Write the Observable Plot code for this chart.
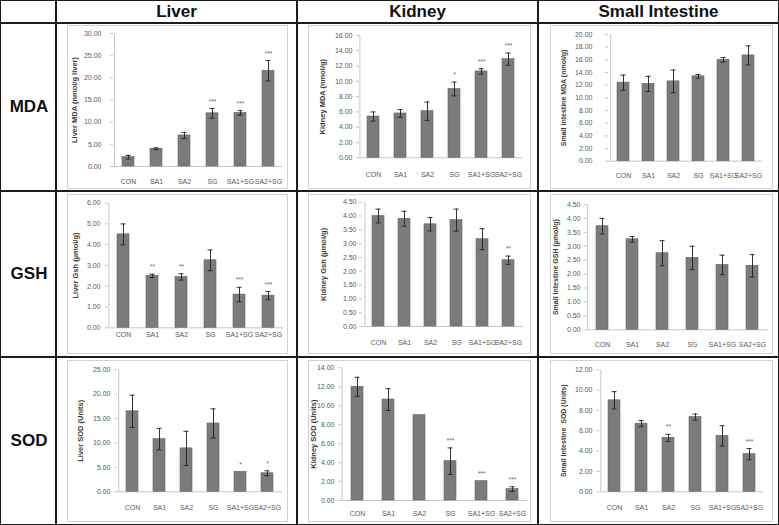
<!DOCTYPE html>
<html><head><meta charset="utf-8">
<script src="https://cdn.jsdelivr.net/npm/d3@7"></script>
<script src="https://cdn.jsdelivr.net/npm/@observablehq/plot@0.6"></script>
<style>
body{margin:0;background:#fff;}
#wrap{position:relative;width:779px;height:525px;overflow:hidden;font-family:Arial,"Liberation Sans",sans-serif;background:#fff;}
.ln{position:absolute;background:#1c1c1c;}
.hd{position:absolute;font-weight:bold;font-size:17px;color:#111;text-align:center;line-height:20px;}
.panel{position:absolute;}
.panel svg{display:block;outline:1px solid #d2d2d2;outline-offset:-1px;background:#fff;}
</style></head><body><div id="wrap"></div><script>
// ---- data ----
const categories = ["CON", "SA1", "SA2", "SG", "SA1+SG", "SA2+SG"];
const organs = ["Liver", "Kidney", "Small Intestine"];
const measures = ["MDA", "GSH", "SOD"];

const liverMDA = [2.1, 4.0, 7.0, 12.0, 12.1, 21.6];
const liverMDAErr = [0.4, 0.2, 0.7, 1.1, 0.5, 2.3];
const liverMDASig = ["", "", "", "***", "***", "***"];
const kidneyMDA = [5.4, 5.8, 6.1, 9.0, 11.3, 12.9];
const kidneyMDAErr = [0.6, 0.5, 1.2, 0.9, 0.35, 0.8];
const kidneyMDASig = ["", "", "", "*", "***", "***"];
const siMDA = [12.4, 12.2, 12.6, 13.4, 16.0, 16.7];
const siMDAErr = [1.2, 1.2, 1.8, 0.3, 0.35, 1.5];
const siMDASig = ["", "", "", "", "", ""];

const liverGSH = [4.5, 2.5, 2.45, 3.25, 1.6, 1.55];
const liverGSHErr = [0.5, 0.08, 0.15, 0.5, 0.35, 0.2];
const liverGSHSig = ["", "**", "**", "", "***", "***"];
const kidneyGSH = [4.0, 3.9, 3.7, 3.85, 3.16, 2.4];
const kidneyGSHErr = [0.25, 0.27, 0.24, 0.4, 0.38, 0.15];
const kidneyGSHSig = ["", "", "", "", "", "**"];
const siGSH = [3.72, 3.25, 2.75, 2.58, 2.33, 2.3];
const siGSHErr = [0.28, 0.1, 0.45, 0.42, 0.35, 0.4];
const siGSHSig = ["", "", "", "", "", ""];

const liverSOD = [16.5, 10.8, 8.9, 14.0, 4.1, 3.8];
const liverSODErr = [3.3, 2.2, 3.5, 3.0, 0, 0.5];
const liverSODSig = ["", "", "", "", "*", "*"];
const kidneySOD = [12.0, 10.65, 9.0, 4.15, 2.05, 1.2];
const kidneySODErr = [1.0, 1.15, 0, 1.4, 0, 0.25];
const kidneySODSig = ["", "", "", "***", "***", "***"];
const siSOD = [9.0, 6.7, 5.3, 7.35, 5.5, 3.7];
const siSODErr = [0.85, 0.3, 0.35, 0.3, 1.0, 0.55];
const siSODSig = ["", "", "**", "", "", "***"];

const yLabels = [
  ["Liver MDA (nmol/g liver)", "Kidney MDA (nmol/g)", "Small Intestine MDA (nmol/g)"],
  ["Liver Gsh (\u00b5mol/g)", "Kidney Gsh (\u00b5mol/g)", "Small Intestine GSH (\u00b5mol/g)"],
  ["Liver SOD (Units)", "Kidney SOD (Units)", "Small Intestine  SOD (Units)"]
];
const yMax = [[30, 16, 20], [6, 4.5, 4.5], [25, 14, 12]];
const yStep = [[5, 2, 2], [1, 0.5, 0.5], [5, 2, 2]];

const series = [
  [[liverMDA, liverMDAErr, liverMDASig], [kidneyMDA, kidneyMDAErr, kidneyMDASig], [siMDA, siMDAErr, siMDASig]],
  [[liverGSH, liverGSHErr, liverGSHSig], [kidneyGSH, kidneyGSHErr, kidneyGSHSig], [siGSH, siGSHErr, siGSHSig]],
  [[liverSOD, liverSODErr, liverSODSig], [kidneySOD, kidneySODErr, kidneySODSig], [siSOD, siSODErr, siSODSig]]
];

// ---- layout ----
const wrap = document.getElementById("wrap");
function line(x, y, w, h) {
  const d = document.createElement("div");
  d.className = "ln";
  Object.assign(d.style, {left: x + "px", top: y + "px", width: w + "px", height: h + "px"});
  wrap.appendChild(d);
}
const colLines = [56, 297, 538];
const rowLines = [23, 191, 357];
line(0, 0, 779, 1); line(0, 524, 779, 1); line(0, 0, 1, 525); line(778, 0, 1, 525);
colLines.forEach(x => line(x - 1, 0, 2, 525));
rowLines.forEach(y => line(0, y - 1, 779, 2));

function label(text, cx, cy) {
  const d = document.createElement("div");
  d.className = "hd";
  d.textContent = text;
  Object.assign(d.style, {left: (cx - 100) + "px", top: (cy - 10) + "px", width: "200px"});
  wrap.appendChild(d);
}
const colCenters = [176.5, 417.5, 658.5];
const rowCenters = [107, 274, 441];
organs.forEach((o, j) => label(o, colCenters[j], 12));
measures.forEach((m, i) => label(m, 29, rowCenters[i]));

// panel frames and plot-area geometry (page pixels)
const frameX = [[67, 288], [308, 531], [550, 773]];
const frameY = [[25, 189], [194, 354], [360, 522]];
const geo = [
  [ {x0:113, x1:282, yTop:33, y0:166, labR:101, xlab:183, ylab:74},
    {x0:359, x1:522, yTop:35, y0:157.3, labR:352, xlab:176, ylab:322},
    {x0:608, x1:762, yTop:34, y0:160.7, labR:592, xlab:176.7, ylab:563} ],
  [ {x0:108, x1:283, yTop:202.7, y0:327.3, labR:100, xlab:336, ylab:75},
    {x0:362, x1:523, yTop:201.7, y0:326, labR:356, xlab:344, ylab:323},
    {x0:586.5, x1:768, yTop:204, y0:329.3, labR:580, xlab:346, ylab:555} ],
  [ {x0:117, x1:282, yTop:369.3, y0:491.3, labR:110, xlab:509, ylab:80},
    {x0:341, x1:527, yTop:367.3, y0:500, labR:334, xlab:515, ylab:313},
    {x0:599.5, x1:763, yTop:369.3, y0:491.3, labR:592, xlab:509, ylab:563} ]
];

for (let i = 0; i < 3; i++) {
  for (let j = 0; j < 3; j++) {
    const [L, R] = frameX[j];
    const [T, B] = frameY[i];
    const g = geo[i][j];
    const [vals, errs, sig] = series[i][j];
    const data = categories.map((c, k) => ({c, v: vals[k], e: errs[k], s: sig[k]}));
    const withErr = data.filter(d => d.e > 0);
    const max = yMax[i][j], step = yStep[i][j];
    const bandStep = (g.x1 - g.x0) / categories.length;
    const pad = 1 - 12 / bandStep;
    const ticks = d3.range(0, max + step / 2, step);
    const svg = Plot.plot({
      width: R - L, height: B - T,
      marginLeft: g.x0 - L, marginRight: R - g.x1,
      marginTop: g.yTop - T, marginBottom: B - g.y0,
      x: {domain: categories, paddingInner: pad, paddingOuter: pad / 2, align: 0.5},
      y: {domain: [0, max]},
      style: {fontFamily: "Arial, 'Liberation Sans', sans-serif", background: "#fff"},
      marks: [
        Plot.ruleY([0], {stroke: "#c6c6c6"}),
        Plot.ruleX([categories[0]], {x: d => d, y1: 0, y2: max, dx: -bandStep / 2, stroke: "#c6c6c6"}),
        Plot.axisY({ticks, tickFormat: d => d.toFixed(2), tickSize: 3, tickPadding: Math.max(1, g.x0 - g.labR - 3),
          stroke: "#c6c6c6", fill: "#5a5a5a", fontSize: 7, label: null}),
        Plot.axisX({tickSize: 0, tickPadding: g.xlab - g.y0 - 4, fill: "#5a5a5a", fontSize: 7, label: null}),
        Plot.barY(data, {x: "c", y: "v", fill: "#7b7b7b", stroke: "#666", strokeWidth: 0.6}),
        Plot.ruleX(withErr, {x: "c", y1: d => d.v - d.e, y2: d => d.v + d.e, stroke: "#1e1e1e", strokeWidth: 0.9}),
        Plot.tickY(withErr, {x: "c", y: d => d.v + d.e, stroke: "#1e1e1e", strokeWidth: 0.9, insetLeft: 3.5, insetRight: 3.5}),
        Plot.tickY(withErr, {x: "c", y: d => d.v - d.e, stroke: "#1e1e1e", strokeWidth: 0.9, insetLeft: 3.5, insetRight: 3.5}),
        Plot.text(data.filter(d => d.s), {x: "c", y: d => d.v + d.e, text: "s", dy: -7, fontSize: 6.5, fill: "#666"}),
        Plot.text([yLabels[i][j]], {text: d => d, frameAnchor: "left", textAnchor: "middle", lineAnchor: "middle",
          dx: g.ylab - g.x0, rotate: -90,
          fontSize: j === 2 ? 7 : 7.5, fontWeight: "bold", fill: "#3a3a3a"})
      ]
    });
    const holder = document.createElement("div");
    holder.className = "panel";
    holder.style.left = L + "px";
    holder.style.top = T + "px";
    holder.appendChild(svg);
    wrap.appendChild(holder);
  }
}
</script></body></html>
